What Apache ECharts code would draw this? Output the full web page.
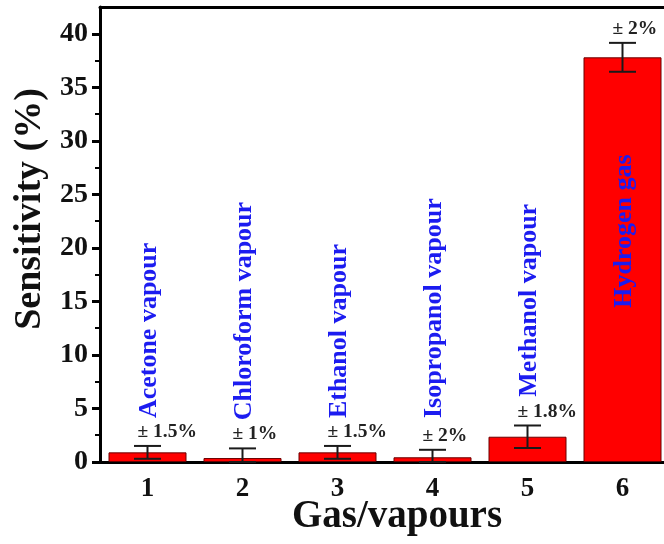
<!DOCTYPE html>
<html><head><meta charset="utf-8">
<script src="https://cdn.jsdelivr.net/npm/echarts@6/dist/echarts.min.js"></script>
<style>html,body{margin:0;padding:0;background:#fff}#c{width:664px;height:544px}</style>
</head><body><div id="c"></div>
<script>
const categories = ['1', '2', '3', '4', '5', '6'];
const sensitivity = [0.9, 0.37, 0.9, 0.44, 2.36, 37.8];
const errors = [0.6, 0.9, 0.6, 0.7, 1.05, 1.35];
const errorText = ['± 1.5%', '± 1%', '± 1.5%', '± 2%', '± 1.8%', '± 2%'];
const gasNames = ['Acetone vapour', 'Chloroform vapour', 'Ethanol vapour', 'Isopropanol vapour', 'Methanol vapour', 'Hydrogen gas'];
const nameBase = [4.1, 3.9, 4.1, 4.1, 6.1, 14.4];
const yTicks = [0, 5, 10, 15, 20, 25, 30, 35, 40];
const yMinorTicks = [2.5, 7.5, 12.5, 17.5, 22.5, 27.5, 32.5, 37.5];

const FONT = '"Liberation Serif", "Times New Roman", serif';
const chart = echarts.init(document.getElementById('c'), null, {renderer: 'canvas'});

const errData = categories.map((c, i) => [i, sensitivity[i], errors[i]]);
const labelData = categories.map((c, i) => [i, sensitivity[i], errors[i], nameBase[i]]);

chart.setOption({
  animation: false,
  backgroundColor: '#fff',
  grid: {left: 100, right: -6, top: 7, bottom: 82, outerBoundsMode: 'none', containLabel: false},
  xAxis: [
    {type: 'category', data: categories, position: 'bottom', boundaryGap: true,
     axisLine: {lineStyle: {color: '#000', width: 3}},
     axisTick: {alignWithLabel: true, length: 8, lineStyle: {color: '#000', width: 3}},
     axisLabel: {fontFamily: FONT, fontWeight: 'bold', fontSize: 27, color: '#111', margin: 14}},
    {type: 'category', data: categories, position: 'bottom', boundaryGap: true,
     axisLine: {show: false},
     axisTick: {alignWithLabel: false, length: 5, lineStyle: {color: '#000', width: 3}},
     axisLabel: {show: false}},
    {type: 'category', data: categories, position: 'top',
     axisLine: {lineStyle: {color: '#000', width: 3}},
     axisTick: {show: false}, axisLabel: {show: false}}
  ],
  yAxis: [
    {type: 'value', min: 0, max: 42.5, interval: 5, position: 'left',
     axisLine: {show: true, lineStyle: {color: '#000', width: 3}},
     axisTick: {show: true, length: 8, customValues: yTicks, lineStyle: {color: '#000', width: 3}},
     axisLabel: {customValues: yTicks, fontFamily: FONT, fontWeight: 'bold', fontSize: 28, color: '#111', margin: 12},
     splitLine: {show: false}},
    {type: 'value', min: 0, max: 42.5, interval: 5, position: 'left',
     axisLine: {show: false},
     axisTick: {show: true, length: 5, customValues: yMinorTicks, lineStyle: {color: '#000', width: 2}},
     axisLabel: {show: false}, splitLine: {show: false}}
  ],
  graphic: [
    {type: 'text', x: 30, y: 209, rotation: Math.PI / 2,
     style: {text: 'Sensitivity (%)', font: 'bold 38px ' + FONT, fill: '#111', align: 'center', verticalAlign: 'middle'}},
    {type: 'text', x: 397, y: 517,
     style: {text: 'Gas/vapours', font: 'bold 39px ' + FONT, fill: '#111', align: 'center', verticalAlign: 'middle'}}
  ],
  series: [
    {type: 'bar', data: sensitivity, barWidth: 78, xAxisIndex: 0, yAxisIndex: 0, z: 2,
     itemStyle: {color: '#ff0000', borderColor: '#6b0000', borderWidth: 1}},
    {type: 'custom', xAxisIndex: 0, yAxisIndex: 0, z: 3, data: errData, clip: false,
     renderItem: function (params, api) {
       const x = api.value(0), y = api.value(1), e = api.value(2);
       const top = api.coord([x, y + e]);
       const bot = api.coord([x, Math.max(0, y - e)]);
       const hw = 13.5;
       const st = {stroke: '#1a1a1a', lineWidth: 2};
       return {type: 'group', children: [
         {type: 'line', shape: {x1: top[0], y1: top[1], x2: bot[0], y2: bot[1]}, style: st},
         {type: 'line', shape: {x1: top[0] - hw, y1: top[1], x2: top[0] + hw, y2: top[1]}, style: st},
         {type: 'line', shape: {x1: bot[0] - hw, y1: bot[1], x2: bot[0] + hw, y2: bot[1]}, style: st}
       ]};
     }},
    {type: 'custom', xAxisIndex: 0, yAxisIndex: 0, z: 4, data: labelData, clip: false,
     renderItem: function (params, api) {
       const i = params.dataIndex;
       const x = api.value(0), y = api.value(1), e = api.value(2), b = api.value(3);
       const top = api.coord([x, y + e]);
       const base = api.coord([x, b]);
       return {type: 'group', children: [
         {type: 'text', x: top[0] - 10, y: top[1] - 4,
          style: {text: errorText[i], font: 'bold 19.5px ' + FONT, fill: '#222', align: 'left', verticalAlign: 'bottom'}},
         {type: 'text', x: base[0] + 2, y: base[1], rotation: Math.PI / 2,
          style: {text: gasNames[i], font: 'bold 26px ' + FONT, fill: '#1c1cf0', align: 'left', verticalAlign: 'middle'}}
       ]};
     }}
  ]
});
</script>
</body></html>
